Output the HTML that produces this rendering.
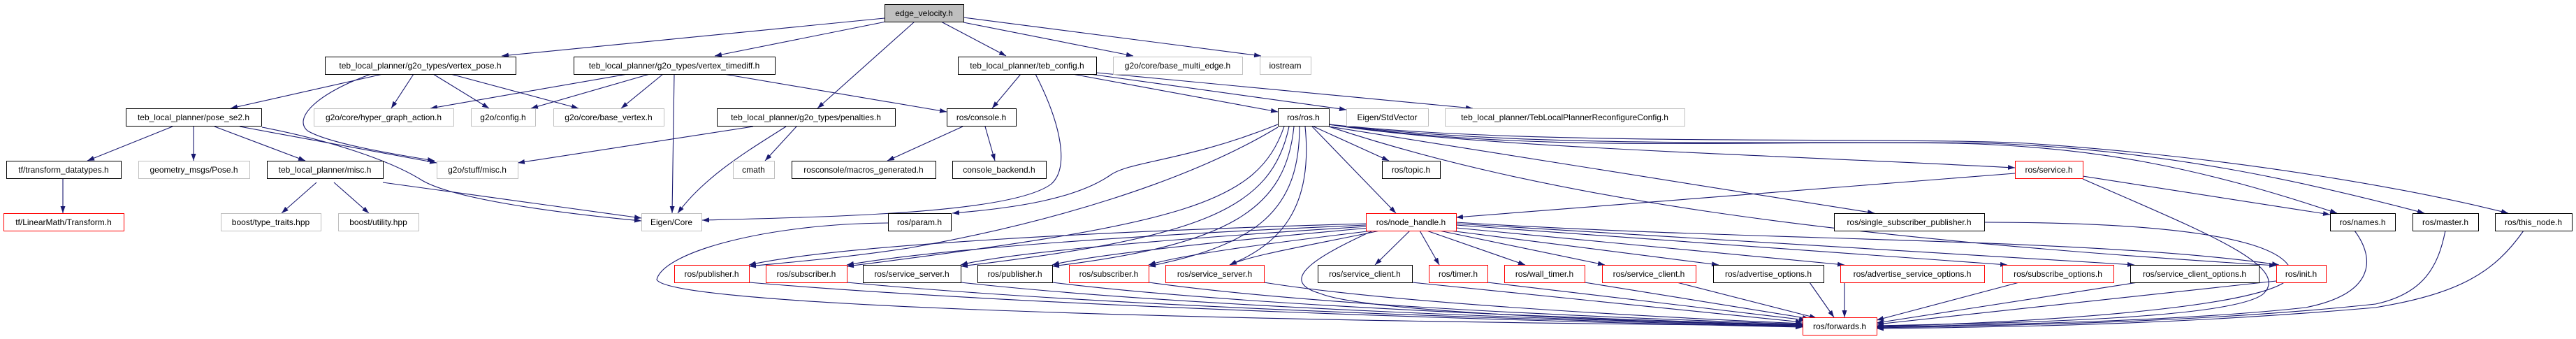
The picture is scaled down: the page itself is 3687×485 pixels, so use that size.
<!DOCTYPE html>
<html><head><meta charset="utf-8"><style>
html,body{margin:0;padding:0;background:#fff;}
svg{display:block;}
text{font-family:"Liberation Sans",sans-serif;font-size:12px;fill:#000;text-anchor:middle;}
.b{fill:#fff;stroke:#000;stroke-width:1;}
.g{fill:#fff;stroke:#bfbfbf;stroke-width:1;}
.r{fill:#fff;stroke:#ff0000;stroke-width:1;}
.f{fill:#bfbfbf;stroke:#000;stroke-width:1;}
</style></head><body>
<svg width="3687" height="485" viewBox="0 0 3687 485" xmlns="http://www.w3.org/2000/svg">
<defs><marker id="a" markerWidth="10" markerHeight="7" refX="10" refY="3.5" orient="auto" markerUnits="userSpaceOnUse"><path d="M0,0 L10,3.5 L0,7 z" fill="#191970"/></marker></defs>
<g fill="none" stroke="#191970" stroke-width="1.1" marker-end="url(#a)">
<path d="M1266,26 L718,80"/><path d="M1268,31 L1023,80"/><path d="M1309,31 L1170,155"/><path d="M1347,31 L1440,80"/><path d="M1379,32 L1622,80"/><path d="M1379,25 L1805,80"/>
<path d="M548,106 L330,155"/><path d="M592,106 L560,155"/><path d="M620,106 L700,155"/><path d="M645,106 L828,155"/>
<path d="M531,106 C450,135 420,170 440,187 C470,205 560,220 622,230"/>
<path d="M898,106 L616,155"/><path d="M930,106 L760,155"/><path d="M949,106 L889,155"/><path d="M965,106 L962,305"/><path d="M1036,106 L1355,160"/>
<path d="M247,181 L125,230"/><path d="M277,181 L277,230"/><path d="M307,181 L437,230"/><path d="M343,181 L625,233"/>
<path d="M375,182 C470,200 560,230 604,258 C650,285 800,305 918,316"/>
<path d="M548,261 L918,312"/><path d="M453,261 L403,305"/><path d="M478,261 L528,305"/><path d="M90,256 L90,305"/>
<path d="M1078,181 L741,233"/><path d="M1140,181 L1095,230"/><path d="M1125,181 C1080,210 1010,250 970,305"/>
<path d="M1461,106 L1420,155"/><path d="M1482,106 C1520,180 1530,240 1505,263 C1450,305 1200,310 1005,315"/>
<path d="M1535,106 L1829,160"/><path d="M1560,106 L1927,157"/><path d="M1569,104 L2108,155"/>
<path d="M1378,181 L1270,230"/><path d="M1410,181 L1424,230"/>
<path d="M1829,178 C1700,230 1620,230 1590,250 C1540,285 1450,298 1363,305"/>
<path d="M1829,182 C1700,260 1500,320 1300,355 C1200,370 1120,376 1072,381"/>
<path d="M1838,181 C1800,290 1700,320 1212,381"/>
<path d="M1845,181 C1820,300 1720,340 1375,381"/>
<path d="M1852,181 C1840,300 1760,350 1506,381"/>
<path d="M1860,181 C1860,300 1800,350 1644,381"/>
<path d="M1868,181 C1880,300 1830,350 1760,379"/>
<path d="M1880,181 L1988,230"/><path d="M1878,181 L1998,305"/><path d="M1902,181 L2683,305"/>
<path d="M1902,178 C2100,210 2500,220 2884,240"/>
<path d="M1902,178 C2200,220 2500,200 2800,205 C3000,210 3150,240 3345,305"/>
<path d="M1902,178 C2200,215 2600,200 2850,205 C3100,215 3300,260 3470,305"/>
<path d="M1902,178 C2200,210 2700,195 2900,205 C3200,225 3450,270 3590,305"/>
<path d="M1902,181 C2200,280 2600,340 3258,380"/>
<path d="M2884,248 L2084,311"/><path d="M2981,252 L3335,307"/>
<path d="M2981,256 C3150,330 3280,380 3240,420 C3200,455 2900,462 2686,466"/>
<path d="M1955,320 C1600,330 1200,350 1072,379"/>
<path d="M1955,322 C1650,335 1350,355 1212,379"/>
<path d="M1957,324 C1700,340 1450,360 1375,379"/>
<path d="M1960,326 C1750,345 1560,365 1506,379"/>
<path d="M1965,330 C1800,350 1690,365 1644,379"/>
<path d="M1975,330 C1880,350 1790,365 1760,379"/>
<path d="M2018,330 L1968,379"/><path d="M2032,330 L2060,379"/><path d="M2042,330 L2183,379"/><path d="M2060,330 L2297,379"/><path d="M2075,330 L2460,379"/><path d="M2084,326 L2640,379"/><path d="M2084,322 L2873,379"/><path d="M2084,320 L3055,379"/>
<path d="M2084,318 C2500,345 3000,340 3262,379"/>
<path d="M1965,330 C1900,360 1820,400 1890,420 C1950,445 2300,460 2580,465"/>
<path d="M1271,319 C1100,320 950,360 940,400 C960,440 1800,460 2580,466"/>
<path d="M1072,404 C1500,440 2200,460 2580,468"/><path d="M1212,404 C1600,440 2200,458 2580,467"/><path d="M1375,404 C1700,440 2250,458 2580,466"/><path d="M1506,404 C1800,440 2300,457 2580,465"/><path d="M1644,404 C1900,440 2350,456 2580,464"/><path d="M1809,404 C2000,435 2400,455 2580,463"/>
<path d="M2021,404 L2580,461"/><path d="M2129,404 L2585,458"/><path d="M2268,404 L2590,456"/><path d="M2400,404 L2600,455"/><path d="M2590,404 L2625,454"/><path d="M2640,404 L2640,454"/><path d="M2890,404 L2686,458"/><path d="M3060,404 L2686,462"/><path d="M3258,402 L2686,464"/>
<path d="M2840,318 C3100,318 3270,340 3280,390 C3280,440 2900,462 2686,467"/>
<path d="M3370,330 C3400,370 3400,420 3300,440 C3100,462 2800,465 2686,468"/>
<path d="M3500,330 C3490,380 3470,420 3400,435 C3150,462 2850,466 2686,469"/>
<path d="M3612,330 C3570,390 3520,420 3400,440 C3100,466 2850,468 2686,470"/>
</g>
<g>
<rect class="f" x="1266.5" y="6.5" width="113" height="25"/><text x="1322.5" y="23">edge_velocity.h</text>
<rect class="b" x="465.5" y="81.5" width="273" height="25"/><text x="601.5" y="98">teb_local_planner/g2o_types/vertex_pose.h</text>
<rect class="b" x="821.5" y="81.5" width="288" height="25"/><text x="965" y="98">teb_local_planner/g2o_types/vertex_timediff.h</text>
<rect class="b" x="1371.5" y="81.5" width="198" height="25"/><text x="1470" y="98">teb_local_planner/teb_config.h</text>
<rect class="g" x="1593.5" y="81.5" width="185" height="25"/><text x="1685.5" y="98">g2o/core/base_multi_edge.h</text>
<rect class="g" x="1803.5" y="81.5" width="73" height="25"/><text x="1839.5" y="98">iostream</text>
<rect class="b" x="180.5" y="155.5" width="194" height="25"/><text x="277" y="172">teb_local_planner/pose_se2.h</text>
<rect class="g" x="449.5" y="155.5" width="200" height="25"/><text x="549" y="172">g2o/core/hyper_graph_action.h</text>
<rect class="g" x="674.5" y="155.5" width="92" height="25"/><text x="720" y="172">g2o/config.h</text>
<rect class="g" x="792.5" y="155.5" width="158" height="25"/><text x="871" y="172">g2o/core/base_vertex.h</text>
<rect class="b" x="1026.5" y="155.5" width="255" height="25"/><text x="1153.5" y="172">teb_local_planner/g2o_types/penalties.h</text>
<rect class="b" x="1355.5" y="155.5" width="99" height="25"/><text x="1404.5" y="172">ros/console.h</text>
<rect class="b" x="1829.5" y="155.5" width="73" height="25"/><text x="1865.5" y="172">ros/ros.h</text>
<rect class="g" x="1927.5" y="155.5" width="117" height="25"/><text x="1985.5" y="172">Eigen/StdVector</text>
<rect class="g" x="2068.5" y="155.5" width="343" height="25"/><text x="2239.5" y="172">teb_local_planner/TebLocalPlannerReconfigureConfig.h</text>
<rect class="b" x="9.5" y="230.5" width="164" height="25"/><text x="91" y="247">tf/transform_datatypes.h</text>
<rect class="g" x="198.5" y="230.5" width="159" height="25"/><text x="277.5" y="247">geometry_msgs/Pose.h</text>
<rect class="b" x="382.5" y="230.5" width="166" height="25"/><text x="465" y="247">teb_local_planner/misc.h</text>
<rect class="g" x="625.5" y="230.5" width="116" height="25"/><text x="683" y="247">g2o/stuff/misc.h</text>
<rect class="g" x="1049.5" y="230.5" width="59" height="25"/><text x="1078.5" y="247">cmath</text>
<rect class="b" x="1133.5" y="230.5" width="206" height="25"/><text x="1236" y="247">rosconsole/macros_generated.h</text>
<rect class="b" x="1363.5" y="230.5" width="134" height="25"/><text x="1430" y="247">console_backend.h</text>
<rect class="b" x="1978.5" y="230.5" width="83" height="25"/><text x="2019.5" y="247">ros/topic.h</text>
<rect class="r" x="2884.5" y="230.5" width="97" height="25"/><text x="2932.5" y="247">ros/service.h</text>
<rect class="r" x="5.5" y="305.5" width="172" height="25"/><text x="91" y="322">tf/LinearMath/Transform.h</text>
<rect class="g" x="316.5" y="305.5" width="143" height="25"/><text x="387.5" y="322">boost/type_traits.hpp</text>
<rect class="g" x="484.5" y="305.5" width="115" height="25"/><text x="541.5" y="322">boost/utility.hpp</text>
<rect class="g" x="918.5" y="305.5" width="86" height="25"/><text x="961" y="322">Eigen/Core</text>
<rect class="b" x="1271.5" y="305.5" width="90" height="25"/><text x="1316" y="322">ros/param.h</text>
<rect class="r" x="1955.5" y="305.5" width="129" height="25"/><text x="2019.5" y="322">ros/node_handle.h</text>
<rect class="b" x="2625.5" y="305.5" width="215" height="25"/><text x="2732.5" y="322">ros/single_subscriber_publisher.h</text>
<rect class="b" x="3335.5" y="305.5" width="93" height="25"/><text x="3381.5" y="322">ros/names.h</text>
<rect class="b" x="3453.5" y="305.5" width="94" height="25"/><text x="3500" y="322">ros/master.h</text>
<rect class="b" x="3571.5" y="305.5" width="110" height="25"/><text x="3626" y="322">ros/this_node.h</text>
<rect class="r" x="965.5" y="379.5" width="107" height="25"/><text x="1018.5" y="396">ros/publisher.h</text>
<rect class="r" x="1096.5" y="379.5" width="116" height="25"/><text x="1154" y="396">ros/subscriber.h</text>
<rect class="b" x="1235.5" y="379.5" width="140" height="25"/><text x="1305" y="396">ros/service_server.h</text>
<rect class="b" x="1399.5" y="379.5" width="107" height="25"/><text x="1452.5" y="396">ros/publisher.h</text>
<rect class="r" x="1530.5" y="379.5" width="114" height="25"/><text x="1587" y="396">ros/subscriber.h</text>
<rect class="r" x="1668.5" y="379.5" width="141" height="25"/><text x="1738.5" y="396">ros/service_server.h</text>
<rect class="b" x="1886.5" y="379.5" width="135" height="25"/><text x="1953.5" y="396">ros/service_client.h</text>
<rect class="r" x="2045.5" y="379.5" width="84" height="25"/><text x="2087" y="396">ros/timer.h</text>
<rect class="r" x="2153.5" y="379.5" width="115" height="25"/><text x="2210.5" y="396">ros/wall_timer.h</text>
<rect class="r" x="2293.5" y="379.5" width="134" height="25"/><text x="2360" y="396">ros/service_client.h</text>
<rect class="b" x="2452.5" y="379.5" width="158" height="25"/><text x="2531" y="396">ros/advertise_options.h</text>
<rect class="r" x="2634.5" y="379.5" width="206" height="25"/><text x="2737" y="396">ros/advertise_service_options.h</text>
<rect class="r" x="2866.5" y="379.5" width="159" height="25"/><text x="2945.5" y="396">ros/subscribe_options.h</text>
<rect class="b" x="3049.5" y="379.5" width="184" height="25"/><text x="3141" y="396">ros/service_client_options.h</text>
<rect class="r" x="3258.5" y="379.5" width="71" height="25"/><text x="3293.5" y="396">ros/init.h</text>
<rect class="r" x="2580.5" y="454.5" width="106" height="25"/><text x="2633" y="471">ros/forwards.h</text>
</g>
</svg>
</body></html>
